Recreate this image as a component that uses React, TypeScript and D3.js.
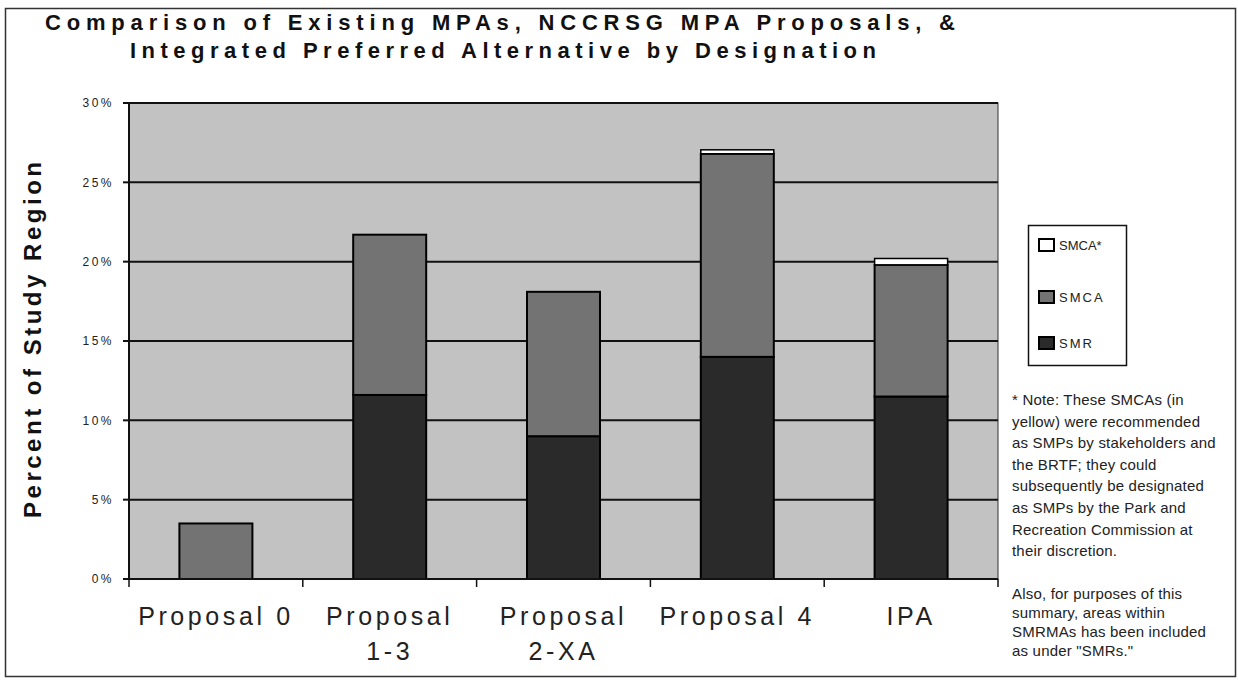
import React from 'react';
import * as d3 from 'd3';

const W = 1238, H = 681;

const categories = ['Proposal 0', 'Proposal 1-3', 'Proposal 2-XA', 'Proposal 4', 'IPA'];
const tickLines = [['Proposal 0'], ['Proposal', '1-3'], ['Proposal', '2-XA'], ['Proposal 4'], ['IPA']];
const smr = [0, 11.6, 9.0, 14.0, 11.5];
const smca = [3.5, 10.1, 9.1, 12.8, 8.3];
const smcaStar = [0, 0, 0, 0.25, 0.4];
const yTicks = [0, 5, 10, 15, 20, 25, 30];
const legendItems = ['SMCA*', 'SMCA', 'SMR'];
const titleLines = [
  'Comparison of Existing MPAs, NCCRSG MPA Proposals, &',
  'Integrated Preferred Alternative by Designation',
];
const noteLines1 = [
  '* Note: These SMCAs (in',
  'yellow) were recommended',
  'as SMPs by stakeholders and',
  'the BRTF; they could',
  'subsequently be designated',
  'as SMPs by the Park and',
  'Recreation Commission at',
  'their discretion.',
];
const noteLines2 = [
  'Also, for purposes of this',
  'summary, areas within',
  'SMRMAs has been included',
  'as under "SMRs."',
];

const plot = { left: 129, right: 998, top: 103, bottom: 579 };
const colors = { bg: '#c2c2c2', SMCA: '#737373', SMR: '#2a2a2a', 'SMCA*': '#ffffff' };
const font = 'Arial, "Liberation Sans", sans-serif';

const App = () => {
  const x = d3.scaleBand<string>()
    .domain(categories)
    .range([plot.left, plot.right])
    .paddingInner(0.58)
    .paddingOuter(0.29);
  const y = d3.scaleLinear().domain([0, 30]).range([plot.bottom, plot.top]);
  const step = x.step();

  // stack SMR -> SMCA -> SMCA*
  const stacked = categories.map((c, i) => {
    const parts = [
      { key: 'SMR', v: smr[i] },
      { key: 'SMCA', v: smca[i] },
      { key: 'SMCA*', v: smcaStar[i] },
    ];
    let acc = 0;
    return parts.map(p => {
      const y0 = acc;
      acc += p.v;
      return { ...p, y0, y1: acc, cat: c };
    }).filter(p => p.v > 0);
  });

  return <svg width={W} height={H} style={{ position: 'absolute', left: 0, top: 0, background: '#fff' }}>
    {/* outer frame */}
    <rect x={5.5} y={8.5} width={1230} height={668} fill='none' stroke='#333' strokeWidth={1.5} />

    {/* title */}
    <g fontFamily={font} fontWeight='bold' fontSize={22} fill='#111'>
      <text x={45} y={30} textLength={910} lengthAdjust='spacing'>{titleLines[0]}</text>
      <text x={130} y={58} textLength={746} lengthAdjust='spacing'>{titleLines[1]}</text>
    </g>

    {/* plot background */}
    <rect x={plot.left} y={plot.top} width={plot.right - plot.left} height={plot.bottom - plot.top}
      fill={colors.bg} stroke='#333' strokeWidth={1} />

    {/* grid + y axis */}
    <g>
      {yTicks.map(t => <g key={t}>
        {t > 0 && <line x1={plot.left} x2={plot.right} y1={y(t)} y2={y(t)} stroke='#111' strokeWidth={2} />}
        <line x1={plot.left - 6} x2={plot.left} y1={y(t)} y2={y(t)} stroke='#111' strokeWidth={2} />
        <text x={114} y={y(t)} dy='0.35em' textAnchor='end' fontFamily={font} fontSize={12}
          letterSpacing={2.5} fill='#222'>{t}%</text>
      </g>)}
      <line x1={plot.left} x2={plot.left} y1={plot.top} y2={plot.bottom} stroke='#111' strokeWidth={2} />
    </g>

    {/* bars */}
    <g>
      {stacked.map((parts, i) => parts.map(p => (
        <rect key={categories[i] + p.key}
          x={x(p.cat)} width={x.bandwidth()}
          y={y(p.y1)} height={y(p.y0) - y(p.y1)}
          fill={colors[p.key]} stroke='#000' strokeWidth={p.key === 'SMCA*' ? 1.5 : 2} />
      )))}
    </g>

    {/* x axis */}
    <g>
      <line x1={plot.left} x2={plot.right} y1={plot.bottom} y2={plot.bottom} stroke='#111' strokeWidth={2} />
      {d3.range(categories.length + 1).map(k => {
        const xx = plot.left + k * step;
        return <line key={k} x1={xx} x2={xx} y1={plot.bottom} y2={plot.bottom + 8} stroke='#111' strokeWidth={1.5} />;
      })}
      {categories.map((c, i) => (
        <text key={c} x={(x(c) as number) + x.bandwidth() / 2} y={625} textAnchor='middle'
          fontFamily={font} fontSize={25} letterSpacing={3.6} fill='#222'>
          {tickLines[i].map((l, j) => <tspan key={j} x={(x(c) as number) + x.bandwidth() / 2} dy={j === 0 ? 0 : 35}>{l}</tspan>)}
        </text>
      ))}
    </g>

    {/* legend */}
    <g fontFamily={font} fontSize={13} fill='#222'>
      <rect x={1028.5} y={225.5} width={98} height={140} fill='#fff' stroke='#111' strokeWidth={1.5} />
      {legendItems.map((k, i) => {
        const cy = [245, 297, 343][i];
        return <g key={k}>
          <rect x={1039} y={cy - 6} width={15} height={12} fill={colors[k]} stroke='#000' strokeWidth={2} />
          <text x={1059} y={cy} dy='0.35em' letterSpacing={k === 'SMCA*' ? 0 : 2}>{k}</text>
        </g>;
      })}
    </g>

    {/* notes */}
    <g fontFamily={font} fontSize={15} letterSpacing={0.2} fill='#222'>
      {noteLines1.map((l, i) => <text key={l} x={1012} y={405 + i * 21.6}>{l}</text>)}
      {noteLines2.map((l, i) => <text key={l} x={1012} y={599 + i * 19}>{l}</text>)}
    </g>

    {/* y title */}
    <text transform={`translate(41, 340) rotate(-90)`} textAnchor='middle' fontFamily={font}
      fontWeight='bold' fontSize={24} fill='#111' textLength={356} lengthAdjust='spacing'>Percent of Study Region</text>
  </svg>;
};

export default App;
